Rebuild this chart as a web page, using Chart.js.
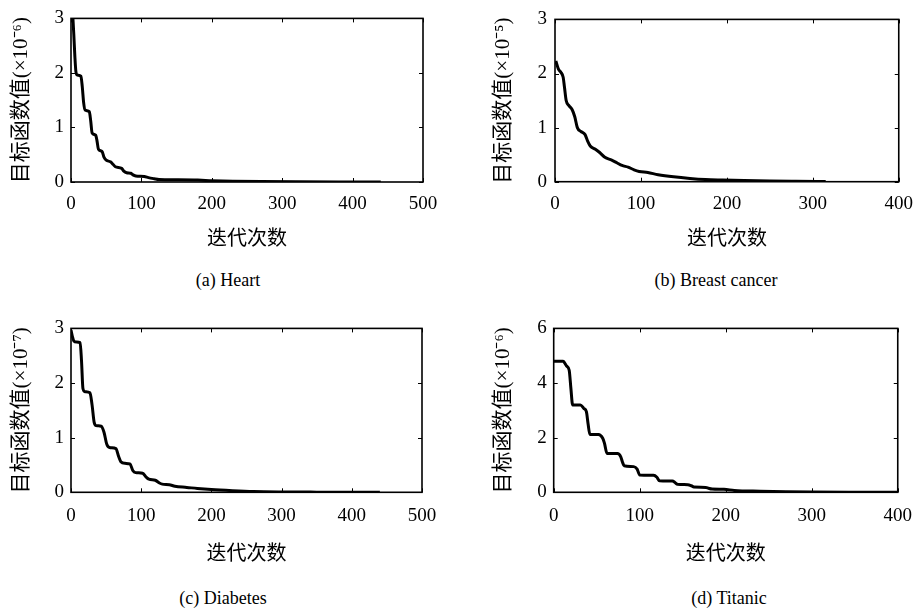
<!DOCTYPE html>
<html>
<head>
<meta charset="utf-8">
<script src="https://cdn.jsdelivr.net/npm/chart.js@4.4.1/dist/chart.umd.min.js"></script>
<style>
  body { margin: 0; background: #fff; }
  #wrap { position: relative; width: 924px; height: 615px; }
  canvas { position: absolute; }
  .cap { position: absolute; font: 18px 'Liberation Serif', serif; color: #000;
         transform: translate(-50%, -50%); white-space: nowrap; }
</style>
</head>
<body>
<div id="wrap">
  <canvas id="cA" width="462" height="252" style="left:0;top:0"></canvas>
  <canvas id="cB" width="462" height="252" style="left:462px;top:0"></canvas>
  <canvas id="cC" width="462" height="257" style="left:0;top:310px"></canvas>
  <canvas id="cD" width="462" height="257" style="left:462px;top:310px"></canvas>
  <div class="cap" style="left:228px;top:280px">(a) Heart</div>
  <div class="cap" style="left:716px;top:280px">(b) Breast cancer</div>
  <div class="cap" style="left:223px;top:598px">(c) Diabetes</div>
  <div class="cap" style="left:729px;top:598px">(d) Titanic</div>
</div>
<script>
// objective value per iteration
const heartX = [2.5, 4, 5.5, 7, 9, 14, 16, 18, 20, 26, 28, 30, 35, 37, 39, 44, 47, 50, 56, 60, 63, 72, 75, 79, 85, 88, 92, 104, 110, 118, 125, 150, 180, 200, 230, 270, 320, 380, 440];
const heartY = [3.05, 2.7, 2.3, 2.02, 1.96, 1.94, 1.75, 1.45, 1.32, 1.29, 1.12, 0.9, 0.86, 0.75, 0.6, 0.56, 0.45, 0.40, 0.37, 0.32, 0.28, 0.25, 0.2, 0.17, 0.16, 0.13, 0.11, 0.1, 0.08, 0.06, 0.045, 0.04, 0.035, 0.025, 0.015, 0.008, 0.004, 0.002, 0.001];

const breastX = [1, 4, 7, 9.5, 11, 13, 16, 20, 23, 26, 30, 35, 38, 41, 47, 52, 58, 66, 72, 78, 85, 92, 98, 108, 120, 138, 157, 175, 195, 220, 250, 280, 315];
const breastY = [2.23, 2.08, 2.02, 1.93, 1.75, 1.5, 1.41, 1.33, 1.2, 1.0, 0.93, 0.87, 0.75, 0.66, 0.60, 0.54, 0.45, 0.40, 0.35, 0.30, 0.27, 0.22, 0.19, 0.17, 0.13, 0.09, 0.06, 0.04, 0.03, 0.02, 0.012, 0.008, 0.005];

const diabetesX = [0, 2, 4, 8, 13, 15, 17, 20, 27, 30, 33, 36, 43, 47, 51, 55, 64, 68, 71, 77, 84, 88, 92, 102, 107, 111, 120, 126, 130, 140, 148, 165, 180, 200, 230, 260, 300, 350, 400, 440];
const diabetesY = [2.97, 2.85, 2.77, 2.75, 2.74, 2.4, 1.9, 1.84, 1.82, 1.6, 1.28, 1.22, 1.21, 1.1, 0.88, 0.82, 0.8, 0.65, 0.56, 0.53, 0.52, 0.4, 0.36, 0.35, 0.28, 0.24, 0.22, 0.17, 0.15, 0.14, 0.11, 0.09, 0.07, 0.05, 0.03, 0.015, 0.007, 0.003, 0.001, 0.0];

const titanicX = [0, 11, 15, 18, 20, 22, 31, 35, 38, 40, 42, 52, 57, 59, 62, 74, 78, 80, 82, 93, 97, 100, 116, 120, 123, 138, 141, 144, 156, 160, 163, 177, 180, 184, 198, 210, 240, 270, 300, 350, 400];
const titanicY = [4.8, 4.8, 4.62, 4.47, 3.8, 3.2, 3.2, 3.07, 2.95, 2.5, 2.12, 2.12, 1.98, 1.8, 1.42, 1.42, 1.3, 1.1, 0.97, 0.94, 0.85, 0.63, 0.62, 0.55, 0.42, 0.41, 0.36, 0.29, 0.28, 0.24, 0.19, 0.18, 0.15, 0.12, 0.11, 0.07, 0.04, 0.02, 0.01, 0.004, 0.002];

const xTitle = '迭代次数';
const yTitles = ['目标函数值(×10⁻⁶)', '目标函数值(×10⁻⁵)', '目标函数值(×10⁻⁷)', '目标函数值(×10⁻⁶)'];
const xMax = [500, 400, 500, 400];
const yMax = [3, 3, 3, 6];
const yStep = [1, 1, 1, 2];

const NUM_FONT = "'Liberation Serif'";
const CJK_FONT = "'Liberation Serif', 'Noto Sans CJK SC'";

// matlab-style box with inward ticks on all four sides
const framePlugin = {
  id: 'frame',
  afterDatasetsDraw(chart) {
    const { ctx, chartArea: a, scales: { x, y } } = chart;
    ctx.save();
    ctx.strokeStyle = '#000';
    ctx.lineWidth = 1;
    ctx.beginPath();
    x.ticks.forEach(t => {
      const px = Math.round(x.getPixelForValue(t.value)) + 0.5;
      ctx.moveTo(px, a.bottom); ctx.lineTo(px, a.bottom - 4);
      ctx.moveTo(px, a.top); ctx.lineTo(px, a.top + 4);
    });
    y.ticks.forEach(t => {
      const py = Math.round(y.getPixelForValue(t.value)) + 0.5;
      ctx.moveTo(a.left, py); ctx.lineTo(a.left + 4, py);
      ctx.moveTo(a.right, py); ctx.lineTo(a.right - 4, py);
    });
    ctx.stroke();
    ctx.lineWidth = 1.6;
    ctx.strokeRect(a.left, a.top, a.width, a.height);
    ctx.restore();
  }
};

function makePanel(id, i, xs, ys, lay) {
  const pts = xs.map((v, k) => ({ x: v, y: ys[k] }));
  return new Chart(document.getElementById(id), {
    type: 'line',
    data: {
      datasets: [{
        data: pts,
        borderColor: '#000',
        borderWidth: 3,
        pointRadius: 0,
        cubicInterpolationMode: 'monotone',
        fill: false
      }]
    },
    options: {
      responsive: false,
      animation: false,
      events: [],
      layout: { padding: { top: lay.top, right: lay.right, left: 0, bottom: 0 } },
      plugins: { legend: { display: false }, tooltip: { enabled: false } },
      scales: {
        x: {
          type: 'linear',
          min: 0,
          max: xMax[i],
          grid: { display: false, drawTicks: false },
          border: { display: false },
          ticks: { stepSize: 100, color: '#000', padding: lay.xPad, maxRotation: 0, font: { family: NUM_FONT, size: 19 } },
          title: { display: true, text: xTitle, color: '#000', padding: 0, font: { family: CJK_FONT, size: 20 } },
          afterFit(s) { s.height = lay.xh; }
        },
        y: {
          min: 0,
          max: yMax[i],
          grid: { display: false, drawTicks: false },
          border: { display: false },
          ticks: { stepSize: yStep[i], color: '#000', padding: lay.yPad, font: { family: NUM_FONT, size: 19 } },
          title: { display: true, text: yTitles[i], color: '#000', padding: { top: lay.yt, bottom: 0 }, font: { family: CJK_FONT, size: 21 } },
          afterFit(s) { s.width = lay.yw; }
        }
      }
    },
    plugins: [framePlugin]
  });
}

makePanel('cA', 0, heartX, heartY, { top: 14, right: 39, xh: 70, xPad: 11, yw: 71, yPad: 7, yt: 9 });
makePanel('cB', 1, breastX, breastY, { top: 13.5, right: 17, xh: 70.3, xPad: 11, yw: 93, yPad: 8, yt: 29 });
makePanel('cC', 2, diabetesX, diabetesY, { top: 14.3, right: 40, xh: 74.7, xPad: 12, yw: 71, yPad: 7, yt: 9 });
makePanel('cD', 3, titanicX, titanicY, { top: 13.7, right: 18.3, xh: 74.7, xPad: 12, yw: 91.7, yPad: 7, yt: 29 });
</script>
</body>
</html>
